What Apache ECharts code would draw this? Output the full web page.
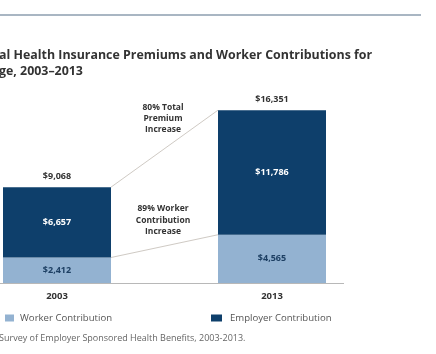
<!DOCTYPE html>
<html>
<head>
<meta charset="utf-8">
<script src="https://cdn.jsdelivr.net/npm/echarts@6/dist/echarts.min.js"></script>
<style>
  html, body { margin: 0; padding: 0; background: #ffffff; }
  #chart { width: 436px; height: 354px; }
</style>
</head>
<body>
<div id="chart"></div>
<script>
// Premium components by survey year (US dollars)
const years = ['2003', '2013'];
const workerContribution = [2412, 4565];
const employerContribution = [6657, 11786];
const totalPremium = [9068, 16351];

const titleLines = ['al Health Insurance Premiums and Worker Contributions for', 'ge, 2003\u20132013'];
const totalNote = '80% Total\nPremium\nIncrease';
const workerNote = '89% Worker\nContribution\nIncrease';
const sourceNote = 'Survey of Employer Sponsored Health Benefits, 2003-2013.';

const NAVY = '#0e3f6b';
const LIGHT = '#93b2d1';
const BAR_W = 108;
const FONT = '"Open Sans", "Noto Sans", sans-serif';

const money = v => '$' + v.toLocaleString('en-US');

const chart = echarts.init(document.getElementById('chart'), null, { renderer: 'canvas' });

chart.setOption({
  backgroundColor: '#ffffff',
  animation: false,
  textStyle: { fontFamily: FONT },
  // category centres sit on the grid edges (boundaryGap off)
  grid: { left: 57, right: 164, top: 103.3, bottom: 71, containLabel: false },
  xAxis: {
    type: 'category',
    data: years,
    boundaryGap: false,
    axisLine: { show: false },
    axisTick: { show: false },
    splitLine: { show: false },
    axisLabel: { margin: 8, fontSize: 9.5, fontWeight: 'bold', color: '#333333', fontFamily: FONT }
  },
  yAxis: {
    type: 'value', min: 0, max: 17000,
    show: false,
    splitLine: { show: false }
  },
  legend: [
    {
      data: ['Worker Contribution'], left: 0, top: 308,
      itemWidth: 9, itemHeight: 7, itemGap: 0, icon: 'rect',
      textStyle: { fontSize: 9.6, color: '#555555', fontFamily: FONT, padding: [0, 0, 0, 1] },
      selectedMode: false
    },
    {
      data: ['Employer Contribution'], left: 206, top: 308,
      itemWidth: 11, itemHeight: 7, itemGap: 0, icon: 'rect',
      textStyle: { fontSize: 9.6, color: '#555555', fontFamily: FONT, padding: [0, 0, 0, 3] },
      selectedMode: false
    }
  ],
  series: [
    {
      name: 'Worker Contribution',
      type: 'bar', stack: 'premium',
      barWidth: BAR_W, clip: false,
      itemStyle: { color: LIGHT },
      label: {
        show: true, position: 'inside',
        formatter: p => money(p.value),
        fontSize: 9, fontWeight: 'bold', color: '#1d3f63', fontFamily: FONT
      },
      data: workerContribution
    },
    {
      name: 'Employer Contribution',
      type: 'bar', stack: 'premium',
      barWidth: BAR_W, clip: false,
      itemStyle: { color: NAVY },
      label: {
        show: true, position: 'inside',
        formatter: p => money(p.value),
        fontSize: 9, fontWeight: 'bold', color: '#ffffff', fontFamily: FONT
      },
      data: employerContribution
    },
    {
      // Total premium written above each stack
      name: 'Total',
      type: 'custom',
      silent: true,
      clip: false,
      renderItem: (params, api) => {
        const pt = api.coord([api.value(0), api.value(1)]);
        return {
          type: 'text',
          style: {
            x: pt[0], y: pt[1] - 10.5,
            text: money(api.value(1)),
            align: 'center', verticalAlign: 'middle',
            font: 'bold 9px ' + FONT, fill: '#333333'
          }
        };
      },
      encode: { x: 0, y: 1 },
      data: totalPremium.map((v, i) => [i, v])
    },
    {
      // Connectors between the stacks: total top and worker share
      name: 'Connectors',
      type: 'custom',
      silent: true,
      clip: false,
      z: 1,
      renderItem: (params, api) => {
        const a = api.coord([api.value(0), api.value(1)]);
        const b = api.coord([api.value(2), api.value(3)]);
        return {
          type: 'line',
          shape: { x1: a[0] + BAR_W / 2, y1: a[1], x2: b[0] - BAR_W / 2, y2: b[1] },
          style: { stroke: '#cfcac4', lineWidth: 1 }
        };
      },
      encode: { x: [0, 2], y: [1, 3] },
      data: [
        [0, totalPremium[0], 1, totalPremium[1]],
        [0, workerContribution[0], 1, workerContribution[1]]
      ]
    }
  ]
});

// Baseline under the bars, plus title, notes and source
const baseY = Math.round(chart.convertToPixel({ yAxisIndex: 0 }, 0));
const lastX = chart.convertToPixel({ xAxisIndex: 0 }, years[years.length - 1]);

chart.setOption({
  graphic: [
    { type: 'rect', shape: { x: 0, y: 14, width: 421, height: 2 }, style: { fill: '#a9b6c3' }, silent: true },
    { type: 'line', silent: true,
      shape: { x1: 0, y1: baseY + 0.5, x2: lastX + BAR_W / 2 + 18, y2: baseY + 0.5 },
      style: { stroke: '#b8b8b8', lineWidth: 1 } },
    { type: 'text', left: -1, top: 47, silent: true,
      style: { text: titleLines.join('\n'), font: 'bold 12.4px ' + FONT, lineHeight: 16, fill: '#333333' } },
    { type: 'text', x: 163, y: 102, silent: true,
      style: { text: totalNote, align: 'center', font: 'bold 8.5px ' + FONT, lineHeight: 11, fill: '#333333' } },
    { type: 'text', x: 163, y: 203, silent: true,
      style: { text: workerNote, align: 'center', font: 'bold 8.5px ' + FONT, lineHeight: 11.5, fill: '#333333' } },
    { type: 'text', left: -1, top: 334, silent: true,
      style: { text: sourceNote, font: '9px ' + FONT, fill: '#666666' } }
  ]
});
</script>
</body>
</html>
